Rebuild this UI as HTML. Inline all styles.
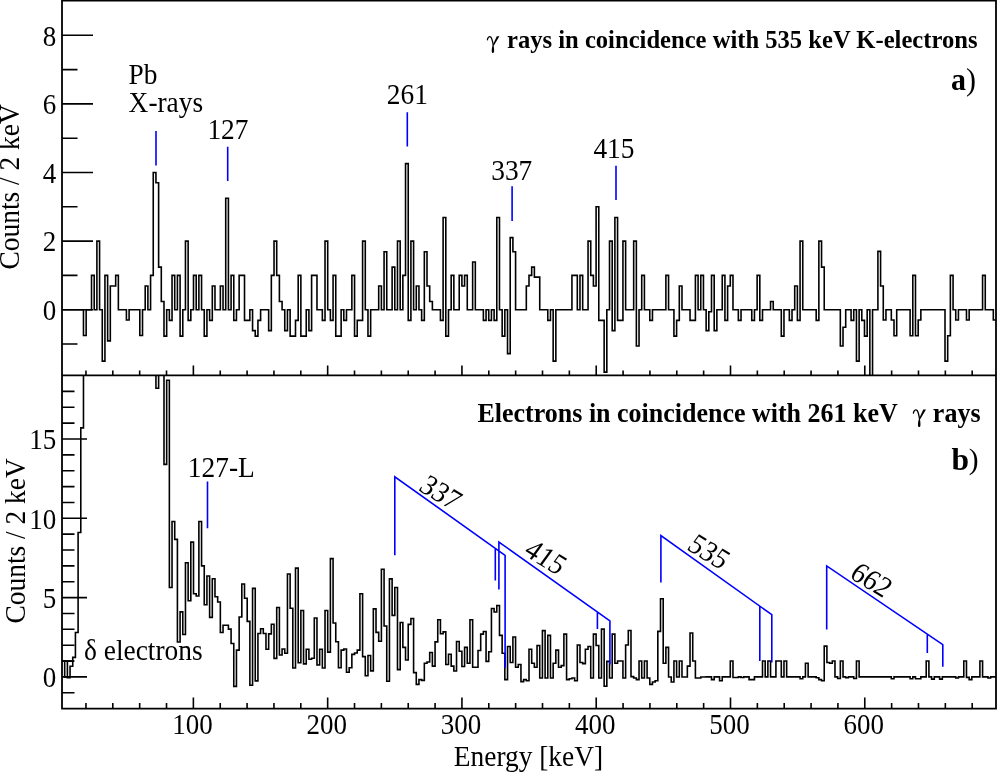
<!DOCTYPE html><html><head><meta charset="utf-8"><style>html,body{margin:0;padding:0;background:#fff;overflow:hidden}</style></head><body><svg width="997" height="772" viewBox="0 0 997 772" style="display:block;will-change:transform"><rect width="997" height="772" fill="#fff"/><defs><clipPath id="cu"><rect x="62.0" y="0" width="934.0" height="375.4"/></clipPath><clipPath id="cl"><rect x="62.0" y="375.4" width="934.0" height="333.20000000000005"/></clipPath></defs><path clip-path="url(#cu)" d="M62.00,309.70H64.68V309.70H67.37V309.70H70.05V309.70H72.74V309.70H75.42V309.70H78.10V309.70H80.79V309.70H83.47V335.43H86.16V309.70H88.84V309.70H91.52V275.40H94.21V309.70H96.89V241.10H99.57V309.70H102.26V361.15H104.94V275.40H107.63V340.91H110.31V286.03H112.99V286.03H115.68V275.40H118.36V309.70H121.05V309.70H123.73V309.70H126.41V319.99H129.10V309.70H131.78V309.70H134.47V309.70H137.15V309.70H139.83V335.43H142.52V309.70H145.20V286.03H147.89V309.70H150.57V275.40H153.25V172.50H155.94V182.79H158.62V267.17H161.30V301.47H163.99V336.11H166.67V309.70H169.36V320.33H172.04V275.40H174.72V309.70H177.41V275.40H180.09V336.11H182.78V309.70H185.46V241.10H188.14V320.33H190.83V309.70H193.51V275.40H196.20V309.70H198.88V275.40H201.56V309.70H204.25V336.11H206.93V309.70H209.61V320.33H212.30V286.03H214.98V309.70H217.67V309.70H220.35V286.03H223.03V309.70H225.72V198.22H228.40V309.70H231.09V275.40H233.77V320.33H236.45V309.70H239.14V275.40H241.82V275.40H244.51V320.33H247.19V320.33H249.87V309.70H252.56V330.62H255.24V336.11H257.93V320.33H260.61V309.70H263.29V309.70H265.98V309.70H268.66V330.62H271.34V275.40H274.03V241.10H276.71V275.40H279.40V301.47H282.08V309.70H284.76V330.62H287.45V309.70H290.13V336.11H292.82V336.11H295.50V320.33H298.18V275.40H300.87V336.11H303.55V336.11H306.24V309.70H308.92V330.62H311.60V275.40H314.29V275.40H316.97V309.70H319.66V309.70H322.34V320.33H325.02V241.10H327.71V309.70H330.39V320.33H333.07V275.40H335.76V336.11H338.44V336.11H341.13V309.70H343.81V320.33H346.49V309.70H349.18V309.70H351.86V275.40H354.55V336.11H357.23V320.33H359.91V320.33H362.60V241.10H365.28V309.70H367.97V336.11H370.65V309.70H373.33V309.70H376.02V309.70H378.70V286.03H381.39V309.70H384.07V251.73H386.75V309.70H389.44V309.70H392.12V267.17H394.80V309.70H397.49V241.10H400.17V309.70H402.86V275.40H405.54V163.58H408.22V320.33H410.91V241.10H413.59V309.70H416.28V286.03H418.96V309.70H421.64V320.33H424.33V251.73H427.01V286.03H429.70V301.47H432.38V309.70H435.06V309.70H437.75V309.70H440.43V320.33H443.11V217.43H445.80V336.11H448.48V309.70H451.17V275.40H453.85V309.70H456.53V309.70H459.22V275.40H461.90V286.03H464.59V275.40H467.27V309.70H469.95V309.70H472.64V262.02H475.32V309.70H478.01V309.70H480.69V309.70H483.37V320.33H486.06V309.70H488.74V320.33H491.43V309.70H494.11V320.33H496.79V217.43H499.48V309.70H502.16V336.11H504.84V309.70H507.53V353.60H510.21V237.67H512.90V251.73H515.58V309.70H518.26V309.70H520.95V309.70H523.63V309.70H526.32V286.03H529.00V275.40H531.68V267.17H534.37V277.12H537.05V277.12H539.74V309.70H542.42V309.70H545.10V309.70H547.79V320.33H550.47V309.70H553.16V361.15H555.84V309.70H558.52V309.70H561.21V309.70H563.89V309.70H566.57V309.70H569.26V309.70H571.94V275.40H574.63V275.40H577.31V309.70H579.99V275.40H582.68V309.70H585.36V309.70H588.05V241.10H590.73V275.40H593.41V286.03H596.10V206.80H598.78V320.33H601.47V320.33H604.15V372.13H606.83V309.70H609.52V241.10H612.20V330.62H614.89V217.43H617.57V320.33H620.25V320.33H622.94V241.10H625.62V309.70H628.30V309.70H630.99V309.70H633.67V241.10H636.36V346.06H639.04V309.70H641.72V275.40H644.41V309.70H647.09V309.70H649.78V320.33H652.46V309.70H655.14V309.70H657.83V309.70H660.51V309.70H663.20V309.70H665.88V275.40H668.56V309.70H671.25V309.70H673.93V336.11H676.61V320.33H679.30V286.03H681.98V309.70H684.67V309.70H687.35V309.70H690.03V320.33H692.72V320.33H695.40V275.40H698.09V309.70H700.77V275.40H703.45V309.70H706.14V330.62H708.82V311.76H711.51V275.40H714.19V330.62H716.87V309.70H719.56V309.70H722.24V275.40H724.93V320.33H727.61V286.03H730.29V275.40H732.98V309.70H735.66V309.70H738.34V320.33H741.03V309.70H743.71V309.70H746.40V309.70H749.08V309.70H751.76V320.33H754.45V309.70H757.13V275.40H759.82V320.33H762.50V309.70H765.18V309.70H767.87V309.70H770.55V301.47H773.24V309.70H775.92V309.70H778.60V309.70H781.29V336.11H783.97V309.70H786.66V309.70H789.34V320.33H792.02V309.70H794.71V286.03H797.39V320.33H800.07V241.10H802.76V309.70H805.44V309.70H808.13V309.70H810.81V309.70H813.49V309.70H816.18V320.33H818.86V241.10H821.55V267.17H824.23V309.70H826.91V309.70H829.60V309.70H832.28V309.70H834.97V309.70H837.65V309.70H840.33V346.06H843.02V327.19H845.70V309.70H848.39V309.70H851.07V320.33H853.75V309.70H856.44V361.15H859.12V309.70H861.80V320.33H864.49V336.11H867.17V309.70H869.86V395.45H872.54V309.70H875.22V309.70H877.91V251.39H880.59V286.03H883.28V319.99H885.96V309.70H888.64V309.70H891.33V319.99H894.01V335.77H896.70V309.70H899.38V309.70H902.06V309.70H904.75V309.70H907.43V309.70H910.11V335.77H912.80V275.40H915.48V335.77H918.17V319.99H920.85V309.70H923.53V309.70H926.22V309.70H928.90V309.70H931.59V309.70H934.27V309.70H936.95V309.70H939.64V309.70H942.32V309.70H945.01V361.15H947.69V335.77H950.37V275.40H953.06V309.70H955.74V319.99H958.43V309.70H961.11V309.70H963.79V309.70H966.48V319.99H969.16V309.70H971.84V309.70H974.53V309.70H977.21V309.70H979.90V309.70H982.58V275.40H985.26V309.70H987.95V309.70H990.63V309.70H993.32V319.99H996.00" fill="none" stroke="#000" stroke-width="1.6"/><path clip-path="url(#cl)" d="M62.00,661.04H64.68V676.90H67.37V677.69H70.05V666.27H72.74V657.39H75.42V632.49H78.10V532.57H80.79V427.90H83.47V280.40H86.16V280.40H88.84V280.40H91.52V280.40H94.21V280.40H96.89V280.40H99.57V280.40H102.26V280.40H104.94V280.40H107.63V280.40H110.31V280.40H112.99V280.40H115.68V280.40H118.36V280.40H121.05V280.40H123.73V280.40H126.41V280.40H129.10V280.40H131.78V280.40H134.47V280.40H137.15V280.40H139.83V280.40H142.52V280.40H145.20V280.40H147.89V280.40H150.57V280.40H153.25V280.40H155.94V388.25H158.62V280.40H161.30V280.40H163.99V464.38H166.67V380.32H169.36V587.45H172.04V521.47H174.72V539.39H177.41V642.01H180.09V611.87H182.78V634.55H185.46V562.71H188.14V600.77H190.83V542.09H193.51V593.79H196.20V596.01H198.88V521.47H201.56V565.88H204.25V604.74H206.93V576.03H209.61V617.42H212.30V578.73H214.98V596.81H217.67V602.04H220.35V632.49H223.03V625.20H225.72V625.20H228.40V629.16H231.09V643.44H233.77V686.42H236.45V650.10H239.14V616.95H241.82V583.96H244.51V598.23H247.19V621.39H249.87V685.31H252.56V588.40H255.24V680.87H257.93V633.44H260.61V628.69H263.29V633.44H265.98V649.30H268.66V633.92H271.34V624.24H274.03V658.34H276.71V607.43H279.40V655.01H282.08V648.99H284.76V653.27H287.45V573.97H290.13V608.23H292.82V668.02H295.50V568.10H298.18V662.78H300.87V610.45H303.55V663.89H306.24V649.30H308.92V659.30H311.60V658.19H314.29V618.06H316.97V665.00H319.66V649.30H322.34V668.02H325.02V610.45H327.71V652.16H330.39V558.58H333.07V622.98H335.76V641.69H338.44V667.70H341.13V650.10H343.81V648.99H346.49V672.30H349.18V667.70H351.86V654.38H354.55V652.95H357.23V650.10H359.91V593.79H362.60V656.60H365.28V675.79H367.97V655.49H370.65V670.87H373.33V608.86H376.02V632.33H378.70V641.21H381.39V569.21H384.07V625.99H386.75V681.18H389.44V578.89H392.12V615.36H394.80V587.45H397.49V669.60H400.17V622.50H402.86V647.40H405.54V659.93H408.22V624.40H410.91V618.54H413.59V672.62H416.28V684.35H418.96V679.60H421.64V680.39H424.33V663.26H427.01V661.99H429.70V652.48H432.38V666.12H435.06V641.85H437.75V619.80H440.43V633.76H443.11V631.86H445.80V664.53H448.48V654.22H451.17V666.12H453.85V671.03H456.53V641.53H459.22V651.21H461.90V666.43H464.59V647.40H467.27V663.26H469.95V619.80H472.64V667.23H475.32V667.23H478.01V650.57H480.69V634.08H483.37V631.54H486.06V661.36H488.74V651.68H491.43V608.54H494.11V612.03H496.79V605.53H499.48V635.35H502.16V653.27H504.84V679.60H507.53V646.45H510.21V662.47H512.90V636.93H515.58V667.23H518.26V664.53H520.95V681.66H523.63V679.60H526.32V680.71H529.00V649.30H531.68V663.26H534.37V667.23H537.05V645.50H539.74V678.01H542.42V630.59H545.10V678.01H547.79V635.35H550.47V678.01H553.16V663.26H555.84V650.10H558.52V667.23H561.21V665.64H563.89V634.08H566.57V679.60H569.26V678.80H571.94V678.01H574.63V680.71H577.31V645.02H579.99V662.47H582.68V663.58H585.36V649.30H588.05V646.45H590.73V678.01H593.41V634.08H596.10V645.50H598.78V678.01H601.47V629.16H604.15V686.26H606.83V661.36H609.52V678.01H612.20V634.08H614.89V663.26H617.57V661.04H620.25V661.04H622.94V678.01H625.62V645.02H628.30V630.43H630.99V676.58H633.67V678.01H636.36V679.60H639.04V661.04H641.72V678.01H644.41V661.04H647.09V678.01H649.78V684.35H652.46V681.98H655.14V680.71H657.83V631.38H660.51V598.71H663.20V663.26H665.88V647.40H668.56V677.06H671.25V681.98H673.93V661.04H676.61V677.06H679.30V661.04H681.98V677.06H684.67V677.06H687.35V666.12H690.03V632.97H692.72V661.04H695.40V678.01H698.09V678.01H700.77V677.06H703.45V677.06H706.14V676.90H708.82V676.90H711.51V679.60H714.19V676.90H716.87V676.90H719.56V680.71H722.24V676.90H724.93V676.90H727.61V676.90H730.29V661.04H732.98V677.53H735.66V677.53H738.34V676.90H741.03V677.53H743.71V676.90H746.40V676.90H749.08V679.60H751.76V679.60H754.45V676.90H757.13V676.90H759.82V676.90H762.50V661.04H765.18V676.90H767.87V661.04H770.55V676.90H773.24V676.90H775.92V661.04H778.60V661.04H781.29V676.90H783.97V661.04H786.66V676.90H789.34V676.90H792.02V676.90H794.71V676.90H797.39V676.90H800.07V678.80H802.76V676.90H805.44V663.26H808.13V676.90H810.81V676.90H813.49V676.90H816.18V677.69H818.86V679.60H821.55V680.71H824.23V646.13H826.91V662.47H829.60V663.26H832.28V661.04H834.97V676.90H837.65V678.49H840.33V661.04H843.02V676.90H845.70V677.69H848.39V676.90H851.07V676.90H853.75V678.49H856.44V661.04H859.12V676.90H861.80V676.90H864.49V676.90H867.17V676.90H869.86V676.90H872.54V676.90H875.22V676.90H877.91V676.90H880.59V676.90H883.28V676.90H885.96V676.90H888.64V676.90H891.33V678.80H894.01V676.90H896.70V676.90H899.38V676.90H902.06V676.90H904.75V676.90H907.43V676.90H910.11V678.80H912.80V676.90H915.48V678.80H918.17V678.80H920.85V676.90H923.53V676.90H926.22V661.04H928.90V676.90H931.59V679.12H934.27V676.90H936.95V676.90H939.64V679.12H942.32V676.90H945.01V676.90H947.69V676.90H950.37V676.90H953.06V676.90H955.74V678.01H958.43V676.90H961.11V676.90H963.79V661.04H966.48V677.38H969.16V679.60H971.84V676.90H974.53V676.90H977.21V676.90H979.90V661.04H982.58V676.90H985.26V676.90H987.95V678.01H990.63V676.90H993.32V676.90H996.00" fill="none" stroke="#000" stroke-width="1.6"/><path d="M62,661.1H74M67.4,661.1V677.7" fill="none" stroke="#000" stroke-width="1.6"/><path d="M62.0,0.5H996.0V708.6H62.0Z M62.0,375.4H996.0" fill="none" stroke="#000" stroke-width="1.8"/><path d="M85.96,375.4V370.40M85.96,708.6V703.10M112.81,375.4V370.40M112.81,708.6V703.10M139.67,375.4V370.40M139.67,708.6V703.10M166.52,375.4V370.40M166.52,708.6V703.10M193.38,375.4V365.40M193.38,708.6V697.60M220.24,375.4V370.40M220.24,708.6V703.10M247.09,375.4V370.40M247.09,708.6V703.10M273.95,375.4V370.40M273.95,708.6V703.10M300.80,375.4V370.40M300.80,708.6V703.10M327.66,375.4V365.40M327.66,708.6V697.60M354.52,375.4V370.40M354.52,708.6V703.10M381.37,375.4V370.40M381.37,708.6V703.10M408.23,375.4V370.40M408.23,708.6V703.10M435.08,375.4V370.40M435.08,708.6V703.10M461.94,375.4V365.40M461.94,708.6V697.60M488.80,375.4V370.40M488.80,708.6V703.10M515.65,375.4V370.40M515.65,708.6V703.10M542.51,375.4V370.40M542.51,708.6V703.10M569.36,375.4V370.40M569.36,708.6V703.10M596.22,375.4V365.40M596.22,708.6V697.60M623.08,375.4V370.40M623.08,708.6V703.10M649.93,375.4V370.40M649.93,708.6V703.10M676.79,375.4V370.40M676.79,708.6V703.10M703.64,375.4V370.40M703.64,708.6V703.10M730.50,375.4V365.40M730.50,708.6V697.60M757.36,375.4V370.40M757.36,708.6V703.10M784.21,375.4V370.40M784.21,708.6V703.10M811.07,375.4V370.40M811.07,708.6V703.10M837.92,375.4V370.40M837.92,708.6V703.10M864.78,375.4V365.40M864.78,708.6V697.60M891.64,375.4V370.40M891.64,708.6V703.10M918.49,375.4V370.40M918.49,708.6V703.10M945.35,375.4V370.40M945.35,708.6V703.10M972.20,375.4V370.40M972.20,708.6V703.10M62.0,344.00H77.50M62.0,309.70H93.00M62.0,275.40H77.50M62.0,241.10H93.00M62.0,206.80H77.50M62.0,172.50H93.00M62.0,138.20H77.50M62.0,103.90H93.00M62.0,69.60H77.50M62.0,35.30H93.00M62.0,692.76H74.50M62.0,676.90H87.00M62.0,661.04H74.50M62.0,645.18H74.50M62.0,629.32H74.50M62.0,613.46H74.50M62.0,597.60H87.00M62.0,581.74H74.50M62.0,565.88H74.50M62.0,550.02H74.50M62.0,534.16H74.50M62.0,518.30H87.00M62.0,502.44H74.50M62.0,486.58H74.50M62.0,470.72H74.50M62.0,454.86H74.50M62.0,439.00H87.00M62.0,423.14H74.50M62.0,407.28H74.50M62.0,391.42H74.50" fill="none" stroke="#000" stroke-width="1.6"/><text style='font-family:"Liberation Serif",serif;font-size:27.0px' transform="translate(56.20,320.00) scale(1.0,1.06)" text-anchor="end">0</text><text style='font-family:"Liberation Serif",serif;font-size:27.0px' transform="translate(56.20,251.40) scale(1.0,1.06)" text-anchor="end">2</text><text style='font-family:"Liberation Serif",serif;font-size:27.0px' transform="translate(56.20,182.80) scale(1.0,1.06)" text-anchor="end">4</text><text style='font-family:"Liberation Serif",serif;font-size:27.0px' transform="translate(56.20,114.20) scale(1.0,1.06)" text-anchor="end">6</text><text style='font-family:"Liberation Serif",serif;font-size:27.0px' transform="translate(56.20,45.60) scale(1.0,1.06)" text-anchor="end">8</text><text style='font-family:"Liberation Serif",serif;font-size:27.0px' transform="translate(56.20,687.20) scale(1.0,1.06)" text-anchor="end">0</text><text style='font-family:"Liberation Serif",serif;font-size:27.0px' transform="translate(56.20,607.90) scale(1.0,1.06)" text-anchor="end">5</text><text style='font-family:"Liberation Serif",serif;font-size:27.0px' transform="translate(56.20,528.60) scale(1.0,1.06)" text-anchor="end">10</text><text style='font-family:"Liberation Serif",serif;font-size:27.0px' transform="translate(56.20,449.30) scale(1.0,1.06)" text-anchor="end">15</text><text style='font-family:"Liberation Serif",serif;font-size:27.0px' transform="translate(192.38,733.90) scale(1.0,1.06)" text-anchor="middle">100</text><text style='font-family:"Liberation Serif",serif;font-size:27.0px' transform="translate(326.66,733.90) scale(1.0,1.06)" text-anchor="middle">200</text><text style='font-family:"Liberation Serif",serif;font-size:27.0px' transform="translate(460.94,733.90) scale(1.0,1.06)" text-anchor="middle">300</text><text style='font-family:"Liberation Serif",serif;font-size:27.0px' transform="translate(595.22,733.90) scale(1.0,1.06)" text-anchor="middle">400</text><text style='font-family:"Liberation Serif",serif;font-size:27.0px' transform="translate(729.50,733.90) scale(1.0,1.06)" text-anchor="middle">500</text><text style='font-family:"Liberation Serif",serif;font-size:27.0px' transform="translate(863.78,733.90) scale(1.0,1.06)" text-anchor="middle">600</text><text style='font-family:"Liberation Serif",serif;font-size:27.4px' transform="translate(453.80,766.20) scale(1.0,1.06)">Energy [keV]</text><text style='font-family:"Liberation Serif",serif;font-size:27.4px' transform="translate(19.30,269.40) rotate(-90) scale(1.0,1.06)">Counts / 2 keV</text><text style='font-family:"Liberation Serif",serif;font-size:27.4px' transform="translate(25.10,623.40) rotate(-90) scale(1.0,1.06)">Counts / 2 keV</text><text style='font-family:"Liberation Serif",serif;font-size:27.4px' transform="translate(128.60,84.20) scale(1.0,1.06)">Pb</text><text style='font-family:"Liberation Serif",serif;font-size:27.4px' transform="translate(128.60,111.90) scale(1.0,1.06)">X-rays</text><text style='font-family:"Liberation Serif",serif;font-size:27.4px' transform="translate(207.40,139.00) scale(1.0,1.06)">127</text><text style='font-family:"Liberation Serif",serif;font-size:27.4px' transform="translate(386.80,104.20) scale(1.0,1.06)">261</text><text style='font-family:"Liberation Serif",serif;font-size:27.4px' transform="translate(491.20,179.80) scale(1.0,1.06)">337</text><text style='font-family:"Liberation Serif",serif;font-size:27.4px' transform="translate(593.40,157.60) scale(1.0,1.06)">415</text><text style='font-family:"Liberation Serif",serif;font-size:27.4px' transform="translate(187.80,477.00) scale(1.0,1.06)">127-L</text><text style='font-family:"Liberation Serif",serif;font-size:27.4px' transform="translate(84.00,659.90) scale(1.0,1.06)">δ electrons</text><text style='font-family:"Liberation Serif",serif;font-size:24.6px;font-weight:bold' transform="translate(977.50,47.90) scale(1.0,1.03)" text-anchor="end">rays in coincidence with 535 keV K-electrons</text><text style='font-family:"Liberation Serif",serif;font-size:26px;font-weight:bold' transform="translate(477.50,421.90) scale(1.0,1.03)">Electrons in coincidence with 261 keV</text><text style='font-family:"Liberation Serif",serif;font-size:26px;font-weight:bold' transform="translate(980.50,421.90) scale(1.0,1.03)" text-anchor="end">rays</text><text style='font-family:"Liberation Serif",serif;font-size:30px;font-weight:bold' transform="translate(951.00,90.20) scale(1.0,1.04)">a</text><text style='font-family:"Liberation Serif",serif;font-size:30px' transform="translate(966.00,90.20) scale(1.0,1.04)">)</text><text style='font-family:"Liberation Serif",serif;font-size:31.5px;font-weight:bold' transform="translate(951.60,469.80)">b</text><text style='font-family:"Liberation Serif",serif;font-size:29.5px' transform="translate(968.80,469.00) scale(1.0,1.02)">)</text><g transform="translate(487.4,36.4)"><path d="M0,3.4 C0.3,0.9 2.2,-0.5 3.5,0.8 C4.8,2.2 5.3,5.8 5.8,8.6" fill="none" stroke="#000" stroke-width="1.25" stroke-linecap="round"/><path d="M9.4,-0.2 L12.0,-0.2 L6.5,9.2 L5.3,8.7 Z" fill="#000"/><path d="M5.3,8.6 C4.5,11 4.1,14 4.5,15.8 C4.9,17.1 6.5,16.9 6.7,15.2 C6.9,13 6.4,10.6 6.2,8.8 Z" fill="#000"/></g><g transform="translate(913.4,409.6) scale(1.05)"><path d="M0,3.4 C0.3,0.9 2.2,-0.5 3.5,0.8 C4.8,2.2 5.3,5.8 5.8,8.6" fill="none" stroke="#000" stroke-width="1.25" stroke-linecap="round"/><path d="M9.4,-0.2 L12.0,-0.2 L6.5,9.2 L5.3,8.7 Z" fill="#000"/><path d="M5.3,8.6 C4.5,11 4.1,14 4.5,15.8 C4.9,17.1 6.5,16.9 6.7,15.2 C6.9,13 6.4,10.6 6.2,8.8 Z" fill="#000"/></g><path d="M156,131V165.5M227.7,146.8V180.9M407.3,112.3V146.6M512.1,186.2V221M616,165.7V200M207.5,481.4V528.3M394.8,555.3V476.8L505.1,555.3V667.8M495.3,548.33V580.4M498.9,589.6V542.0L609.9,620.8V664.5M597.4,611.93V628.9M660.9,582.6V535.5L771.8,614.7V662.6M759.8,606.13V660.9M826.7,629.5V565.9L942.8,644.7V666.8M927.3,634.18V653.0" fill="none" stroke="#0000ff" stroke-width="1.6"/><g style='font-family:"Liberation Serif",serif;font-size:27.4px' fill="#000" text-anchor="middle"><text transform="matrix(0.8572,0.5150,-0.6348,0.8737,441.2,492.0)" y="9.5">337</text><text transform="matrix(0.8572,0.5150,-0.6348,0.8737,546.1,556.6)" y="9.5">415</text><text transform="matrix(0.8572,0.5150,-0.6348,0.8737,709.4,551.1)" y="9.5">535</text><text transform="matrix(0.8572,0.5150,-0.6348,0.8737,871.8,579.4)" y="9.5">662</text></g></svg></body></html>
